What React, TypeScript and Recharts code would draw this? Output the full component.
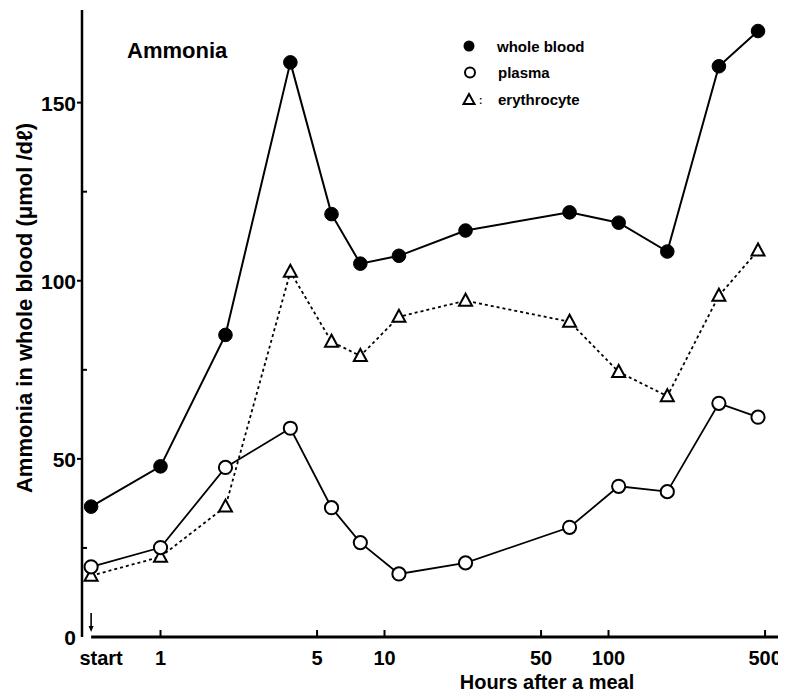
import React from 'react';
import { LineChart, Line, XAxis, YAxis, ReferenceLine, Legend } from 'recharts';

const HOURS = [0.49, 1, 1.95, 3.8, 5.8, 7.8, 11.6, 23, 67, 111, 183, 311, 465];
const WHOLE_BLOOD = [36.6, 47.9, 84.8, 161.3, 118.7, 104.8, 107.0, 114.1, 119.2, 116.3, 108.2, 160.2, 170.1];
const PLASMA = [19.7, 25.1, 47.6, 58.6, 36.3, 26.5, 17.7, 20.8, 30.8, 42.3, 40.8, 65.6, 61.7];
const ERYTHROCYTE = [17.2, 22.5, 36.6, 102.5, 82.9, 78.9, 89.9, 94.4, 88.5, 74.4, 67.6, 95.8, 108.5];

const X_TICKS = [0.49, 1, 5, 10, 50, 100, 500];
const X_TICK_LABELS = ['start', '1', '5', '10', '50', '100', '500'];
const Y_TICKS = [0, 25, 50, 75, 100, 125, 150];
const X_DOMAIN = [0.4462, 588.9];
const Y_DOMAIN = [0, 176];

const data = HOURS.map((h, i) => ({
  hours: h,
  wholeBlood: WHOLE_BLOOD[i],
  plasma: PLASMA[i],
  erythrocyte: ERYTHROCYTE[i],
}));

const FONT = '"Liberation Sans", Arial, Helvetica, sans-serif';

const XTick = (props: any) => {
  const { x, y, payload } = props;
  const idx = X_TICKS.indexOf(payload.value);
  const label = idx >= 0 ? X_TICK_LABELS[idx] : String(payload.value);
  const isStart = idx === 0;
  return (
    <g>
      {isStart ? (
        <g>
          <line x1={x} y1={y - 24} x2={x} y2={y - 8} stroke="#000" strokeWidth={1.6} />
          <polygon points={`${x - 2.5},${y - 11} ${x + 2.5},${y - 11} ${x},${y - 5}`} fill="#000" />
        </g>
      ) : (
        <line x1={x} y1={y} x2={x} y2={y - 7} stroke="#000" strokeWidth={2} />
      )}
      <text
        x={isStart ? x + 10 : x}
        y={y + 28}
        textAnchor="middle"
        fontFamily={FONT}
        fontWeight="bold"
        fontSize={20}
        fill="#000"
      >
        {label}
      </text>
    </g>
  );
};

const YTick = (props: any) => {
  const { x, y, payload } = props;
  const v = payload.value;
  const major = v % 50 === 0;
  if (!major) {
    return <line x1={x} y1={y} x2={x + 5} y2={y} stroke="#000" strokeWidth={2} />;
  }
  return (
    <g>
      {v !== 0 && <line x1={x - 5} y1={y} x2={x} y2={y} stroke="#000" strokeWidth={2} />}
      <text
        x={x - 6}
        y={y + 8}
        textAnchor="end"
        fontFamily={FONT}
        fontWeight="bold"
        fontSize={21}
        fill="#000"
      >
        {v}
      </text>
    </g>
  );
};

const FilledDot = (props: any) => {
  const { cx, cy, index } = props;
  if (cx == null || cy == null) return <g key={`wb-${index}`} />;
  return <circle key={`wb-${index}`} cx={cx} cy={cy} r={6.8} fill="#000" stroke="#000" strokeWidth={1} />;
};

const OpenDot = (props: any) => {
  const { cx, cy, index } = props;
  if (cx == null || cy == null) return <g key={`pl-${index}`} />;
  return <circle key={`pl-${index}`} cx={cx} cy={cy} r={6.6} fill="#fff" stroke="#000" strokeWidth={2} />;
};

const TriDot = (props: any) => {
  const { cx, cy, index } = props;
  if (cx == null || cy == null) return <g key={`er-${index}`} />;
  return (
    <polygon
      key={`er-${index}`}
      points={`${cx},${cy - 7} ${cx - 6.5},${cy + 5} ${cx + 6.5},${cy + 5}`}
      fill="#fff"
      stroke="#000"
      strokeWidth={2}
      strokeLinejoin="miter"
    />
  );
};

const LegendContent = () => (
  <svg width={778} height={120} style={{ display: 'block' }}>
    <text x={119} y={50} fontFamily={FONT} fontWeight="bold" fontSize={22} fill="#000">
      Ammonia
    </text>
    <circle cx={461} cy={38} r={5.5} fill="#000" />
    <text x={489} y={43.5} fontFamily={FONT} fontWeight="bold" fontSize={15} fill="#000">
      whole blood
    </text>
    <circle cx={462} cy={64.5} r={5} fill="#fff" stroke="#000" strokeWidth={2} />
    <text x={490} y={70} fontFamily={FONT} fontWeight="bold" fontSize={15} fill="#000">
      plasma
    </text>
    <polygon points="461,86 455.5,96 466.5,96" fill="#fff" stroke="#000" strokeWidth={2} />
    <text x={471} y={96} fontFamily={FONT} fontWeight="bold" fontSize={10} fill="#000">
      :
    </text>
    <text x={490} y={97} fontFamily={FONT} fontWeight="bold" fontSize={15} fill="#000">
      erythrocyte
    </text>
  </svg>
);

const YTitle = (props: any) => {
  const cx = 16;
  const cy = 300;
  return (
    <text
      x={cx}
      y={cy}
      transform={`rotate(-90, ${cx}, ${cy})`}
      textAnchor="middle"
      dominantBaseline="central"
      fontFamily={FONT}
      fontWeight="bold"
      fontSize={22}
      fill="#000"
    >
      Ammonia in whole blood (μmol /dℓ)
    </text>
  );
};

const XTitle = (props: any) => {
  return (
    <text
      x={539}
      y={681}
      textAnchor="middle"
      fontFamily={FONT}
      fontWeight="bold"
      fontSize={20}
      fill="#000"
    >
      Hours after a meal
    </text>
  );
};

export default function App() {
  return (
    <div style={{ width: 778, height: 686 }}>
      <LineChart
        width={778}
        height={686}
        data={data}
        margin={{ top: 2, right: 5, bottom: 0, left: 0 }}
      >
        <XAxis
          dataKey="hours"
          type="number"
          scale="log"
          domain={X_DOMAIN}
          allowDataOverflow
          ticks={X_TICKS}
          tick={<XTick />}
          tickLine={false}
          axisLine={false}
          tickSize={0}
          tickMargin={0}
          height={57}
          interval={0}
          label={<XTitle />}
        />
        <YAxis
          type="number"
          domain={Y_DOMAIN}
          allowDataOverflow
          ticks={Y_TICKS}
          tick={<YTick />}
          tickLine={false}
          axisLine={{ stroke: '#000', strokeWidth: 2.5 }}
          tickSize={0}
          tickMargin={0}
          width={74}
          interval={0}
          label={<YTitle />}
        />
        <ReferenceLine
          segment={[{ x: 0.49, y: 0 }, { x: 588.9, y: 0 }]}
          stroke="#000"
          strokeWidth={3}
          ifOverflow="visible"
        />
        <Legend
          layout="vertical"
          align="center"
          verticalAlign="middle"
          content={<LegendContent />}
          wrapperStyle={{ top: 0, left: 0, width: 778, height: 120, pointerEvents: 'none' }}
        />
        <Line
          dataKey="erythrocyte"
          type="linear"
          stroke="#000"
          strokeWidth={1.8}
          strokeDasharray="3 3"
          dot={TriDot}
          activeDot={false}
          isAnimationActive={false}
          legendType="triangle"
        />
        <Line
          dataKey="plasma"
          type="linear"
          stroke="#000"
          strokeWidth={1.8}
          dot={OpenDot}
          activeDot={false}
          isAnimationActive={false}
        />
        <Line
          dataKey="wholeBlood"
          type="linear"
          stroke="#000"
          strokeWidth={2}
          dot={FilledDot}
          activeDot={false}
          isAnimationActive={false}
        />
      </LineChart>
    </div>
  );
}
